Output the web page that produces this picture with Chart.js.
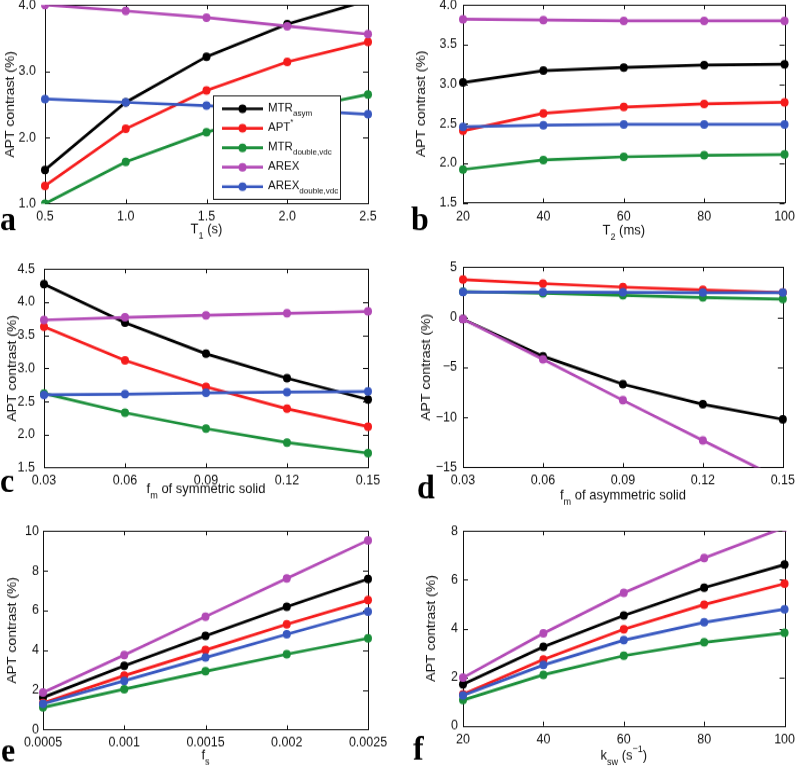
<!DOCTYPE html>
<html>
<head>
<meta charset="utf-8">
<script src="https://cdn.jsdelivr.net/npm/chart.js@4.4.0/dist/chart.umd.min.js"></script>
<style>
  html, body { margin: 0; padding: 0; background: #fff; }
  body { width: 800px; height: 770px; position: relative; overflow: hidden; }
  canvas { position: absolute; }
</style>
</head>
<body>
<script>
// series order in every panel: MTRasym, APT*, MTRdouble,vdc, AREX, AREXdouble,vdc
const seriesColors = ['#000000', '#f51c1c', '#1b8f3a', '#b24ab6', '#3858c0'];

// a: T1 (s)
const aX = [0.5, 1.0, 1.5, 2.0, 2.5];
const aMtr = [1.51, 2.53, 3.22, 3.71, 4.07];
const aApt = [1.27, 2.13, 2.71, 3.14, 3.44];
const aMtrD = [1.00, 1.63, 2.08, 2.40, 2.65];
const aArex = [4.00, 3.91, 3.81, 3.68, 3.56];
const aArexD = [2.58, 2.53, 2.48, 2.42, 2.35];
const aXTicks = [0.5, 1.0, 1.5, 2.0, 2.5];
const aXLabels = ['0.5', '1.0', '1.5', '2.0', '2.5'];
const aYTicks = [1, 2, 3, 4];
const aYLabels = ['1.0', '2.0', '3.0', '4.0'];

// b: T2 (ms)
const bX = [20, 40, 60, 80, 100];
const bMtr = [3.02, 3.17, 3.21, 3.24, 3.25];
const bApt = [2.41, 2.63, 2.71, 2.75, 2.77];
const bMtrD = [1.92, 2.04, 2.08, 2.10, 2.11];
const bArex = [3.82, 3.81, 3.80, 3.80, 3.80];
const bArexD = [2.46, 2.48, 2.49, 2.49, 2.49];
const bXTicks = [20, 40, 60, 80, 100];
const bXLabels = ['20', '40', '60', '80', '100'];
const bYTicks = [1.5, 2.0, 2.5, 3.0, 3.5, 4.0];
const bYLabels = ['1.5', '2.0', '2.5', '3.0', '3.5', '4.0'];

// c: fm of symmetric solid
const cX = [0.03, 0.06, 0.09, 0.12, 0.15];
const cMtr = [4.27, 3.69, 3.22, 2.85, 2.53];
const cApt = [3.63, 3.12, 2.72, 2.39, 2.12];
const cMtrD = [2.62, 2.33, 2.09, 1.88, 1.72];
const cArex = [3.73, 3.77, 3.80, 3.83, 3.86];
const cArexD = [2.60, 2.61, 2.63, 2.64, 2.65];
const cXTicks = [0.03, 0.06, 0.09, 0.12, 0.15];
const cXLabels = ['0.03', '0.06', '0.09', '0.12', '0.15'];
const cYTicks = [1.5, 2.0, 2.5, 3.0, 3.5, 4.0, 4.5];
const cYLabels = ['1.5', '2.0', '2.5', '3.0', '3.5', '4.0', '4.5'];

// d: fm of asymmetric solid
const dX = [0.03, 0.06, 0.09, 0.12, 0.15];
const dMtr = [-0.2, -3.9, -6.7, -8.7, -10.2];
const dApt = [3.75, 3.35, 3.00, 2.72, 2.45];
const dMtrD = [2.55, 2.38, 2.18, 1.97, 1.80];
const dArex = [-0.2, -4.2, -8.3, -12.3, -16.3];
const dArexD = [2.50, 2.50, 2.48, 2.45, 2.45];
const dXTicks = [0.03, 0.06, 0.09, 0.12, 0.15];
const dXLabels = ['0.03', '0.06', '0.09', '0.12', '0.15'];
const dYTicks = [-15, -10, -5, 0, 5];
const dYLabels = ['−15', '−10', '−5', '0', '5'];

// e: fs
const eX = [0.0005, 0.001, 0.0015, 0.002, 0.0025];
const eMtr = [1.62, 3.22, 4.72, 6.19, 7.58];
const eApt = [1.34, 2.72, 4.01, 5.30, 6.52];
const eMtrD = [1.12, 2.04, 2.94, 3.80, 4.60];
const eArex = [1.87, 3.76, 5.69, 7.61, 9.53];
const eArexD = [1.30, 2.46, 3.63, 4.80, 5.94];
const eXTicks = [0.0005, 0.001, 0.0015, 0.002, 0.0025];
const eXLabels = ['0.0005', '0.001', '0.0015', '0.002', '0.0025'];
const eYTicks = [0, 2, 4, 6, 8, 10];
const eYLabels = ['0', '2', '4', '6', '8', '10'];

// f: ksw (s^-1)
const fX = [20, 40, 60, 80, 100];
const fMtr = [1.71, 3.25, 4.53, 5.67, 6.62];
const fApt = [1.30, 2.73, 3.97, 4.98, 5.84];
const fMtrD = [1.06, 2.10, 2.88, 3.43, 3.82];
const fArex = [1.98, 3.80, 5.46, 6.89, 8.15];
const fArexD = [1.25, 2.50, 3.52, 4.25, 4.79];
const fXTicks = [20, 40, 60, 80, 100];
const fXLabels = ['20', '40', '60', '80', '100'];
const fYTicks = [0, 2, 4, 6, 8];
const fYLabels = ['0', '2', '4', '6', '8'];

// legend text pieces ('' normal, 'sub', 'sup')
const legendLabels = [
  [['MTR', ''], ['asym', 'sub']],
  [['APT', ''], ['*', 'sup']],
  [['MTR', ''], ['double,vdc', 'sub']],
  [['AREX', '']],
  [['AREX', ''], ['double,vdc', 'sub']]
];
const yTitle = [['APT contrast (%)', '']];

const S = 1.08; // the figure is stretched a little vertically
const FONT = 'Arial, "Liberation Sans", Helvetica, sans-serif';

function richWidth(ctx, parts, size) {
  let w = 0;
  for (const [t, m] of parts) {
    ctx.font = (m ? size * 0.7 : size) + 'px ' + FONT;
    w += ctx.measureText(t).width;
  }
  return w;
}

function drawRich(ctx, parts, x, y, size, align) {
  let cx = align === 'center' ? x - richWidth(ctx, parts, size) / 2 : x;
  ctx.textAlign = 'left';
  ctx.textBaseline = 'middle';
  for (const [t, m] of parts) {
    ctx.font = (m ? size * 0.7 : size) + 'px ' + FONT;
    const dy = m === 'sub' ? size * 0.45 : (m === 'sup' ? -size * 0.45 : 0);
    ctx.fillText(t, cx, y + dy);
    cx += ctx.measureText(t).width;
  }
}

const decor = {
  id: 'decor',
  beforeDatasetsDraw(chart, args, o) {
    const ctx = chart.ctx;
    const {left, right, top, bottom} = chart.chartArea;
    const xs = chart.scales.x, ys = chart.scales.y;
    ctx.save();
    ctx.strokeStyle = '#111';
    ctx.lineWidth = 1;
    ctx.beginPath();
    for (const v of o.xTicks) {
      const px = Math.round(xs.getPixelForValue(v)) + 0.5;
      ctx.moveTo(px, bottom); ctx.lineTo(px, bottom - 4);
      ctx.moveTo(px, top); ctx.lineTo(px, top + 4);
    }
    for (const v of o.yTicks) {
      const py = Math.round(ys.getPixelForValue(v)) + 0.5;
      ctx.moveTo(left, py); ctx.lineTo(left + 5, py);
      ctx.moveTo(right, py); ctx.lineTo(right - 5, py);
    }
    ctx.stroke();
    ctx.strokeRect(Math.round(left) + 0.5, Math.round(top) + 0.5, Math.round(right - left), Math.round(bottom - top));
    ctx.restore();
  },
  afterDraw(chart, args, o) {
    const ctx = chart.ctx;
    const py = y => (y - o.top) / S;
    const px = x => x - o.left;
    ctx.save();
    ctx.fillStyle = '#111';
    // x title
    drawRich(ctx, o.xTitle, (chart.chartArea.left + chart.chartArea.right) / 2, py(o.xTitleY), 13, 'center');
    // y title
    ctx.save();
    ctx.translate(px(o.yTitleX), (chart.chartArea.top + chart.chartArea.bottom) / 2);
    ctx.rotate(-Math.PI / 2);
    drawRich(ctx, yTitle, 0, 0, 13, 'center');
    ctx.restore();
    // panel letter
    ctx.font = 'bold 32px "Liberation Serif", "Times New Roman", serif';
    ctx.textAlign = 'left';
    ctx.textBaseline = 'alphabetic';
    ctx.fillStyle = '#000';
    ctx.fillText(o.letter, px(o.letterX), py(o.letterY));
    // legend
    if (o.legend) {
      const [lx0, ly0, lx1, ly1] = o.legend;
      ctx.fillStyle = '#fff';
      ctx.fillRect(px(lx0), py(ly0), lx1 - lx0, (ly1 - ly0) / S);
      ctx.strokeStyle = '#222';
      ctx.lineWidth = 1;
      ctx.strokeRect(px(lx0) + 0.5, Math.round(py(ly0)) + 0.5, lx1 - lx0, Math.round((ly1 - ly0) / S));
      legendLabels.forEach((parts, i) => {
        const y = py(ly0 + 13 + i * 19.5);
        ctx.strokeStyle = seriesColors[i];
        ctx.lineWidth = 2.7;
        ctx.beginPath();
        ctx.moveTo(px(lx0 + 9), y); ctx.lineTo(px(lx0 + 50), y);
        ctx.stroke();
        ctx.fillStyle = seriesColors[i];
        ctx.beginPath();
        ctx.arc(px(lx0 + 29.5), y, 4, 0, Math.PI * 2);
        ctx.fill();
        ctx.fillStyle = '#111';
        drawRich(ctx, parts, px(lx0 + 55), y - 1, 11.5, 'left');
      });
    }
    ctx.restore();
  }
};

const panels = [
  {letter: 'a', left: 0, area: [45, 5, 368, 204], x: aX, ys: [aMtr, aApt, aMtrD, aArex, aArexD],
   xTicks: aXTicks, xLabels: aXLabels, yTicks: aYTicks, yLabels: aYLabels, yPad: 9,
   xTitle: [['T', ''], ['1', 'sub'], [' (s)', '']], xTitleY: 230, yTitleX: 10, letterX: 0, letterY: 230,
   legend: [213, 96, 340, 200]},
  {letter: 'b', left: 400, area: [463, 5, 787, 203], x: bX, ys: [bMtr, bApt, bMtrD, bArex, bArexD],
   xTicks: bXTicks, xLabels: bXLabels, yTicks: bYTicks, yLabels: bYLabels, yPad: 6,
   xTitle: [['T', ''], ['2', 'sub'], [' (ms)', '']], xTitleY: 231, yTitleX: 421, letterX: 411, letterY: 230},
  {letter: 'c', left: 0, area: [44, 269, 368, 468], x: cX, ys: [cMtr, cApt, cMtrD, cArex, cArexD],
   xTicks: cXTicks, xLabels: cXLabels, yTicks: cYTicks, yLabels: cYLabels, yPad: 9,
   xTitle: [['f', ''], ['m', 'sub'], [' of symmetric solid', '']], xTitleY: 490, yTitleX: 12, letterX: 0, letterY: 492},
  {letter: 'd', left: 400, area: [463, 267, 787, 467], x: dX, ys: [dMtr, dApt, dMtrD, dArex, dArexD],
   xTicks: dXTicks, xLabels: dXLabels, yTicks: dYTicks, yLabels: dYLabels, yPad: 6,
   xTitle: [['f', ''], ['m', 'sub'], [' of asymmetric solid', '']], xTitleY: 495, yTitleX: 426, letterX: 417, letterY: 498},
  {letter: 'e', left: 0, area: [43, 531, 368, 730], x: eX, ys: [eMtr, eApt, eMtrD, eArex, eArexD],
   xTicks: eXTicks, xLabels: eXLabels, yTicks: eYTicks, yLabels: eYLabels, yPad: 4,
   xTitle: [['f', ''], ['s', 'sub']], xTitleY: 756, yTitleX: 12, letterX: 1, letterY: 762},
  {letter: 'f', left: 400, area: [463, 531, 787, 726], x: fX, ys: [fMtr, fApt, fMtrD, fArex, fArexD],
   xTicks: fXTicks, xLabels: fXLabels, yTicks: fYTicks, yLabels: fYLabels, yPad: 5,
   xTitle: [['k', ''], ['sw', 'sub'], [' (s', ''], ['−1', 'sup'], [')', '']], xTitleY: 756, yTitleX: 431, letterX: 413, letterY: 760}
];

const tickFont = {family: FONT, size: 12.5};

panels.forEach(p => {
  const [L, T, R, B] = p.area;
  const top = T - 24;
  const padTop = 24 / S;
  const h = Math.round((B - T + 90) / S);
  const xAxisH = h - padTop - (B - T) / S;
  const canvas = document.createElement('canvas');
  canvas.width = 400;
  canvas.height = h;
  canvas.style.left = p.left + 'px';
  canvas.style.top = top + 'px';
  canvas.style.width = '400px';
  canvas.style.height = (h * S) + 'px';
  document.body.appendChild(canvas);

  new Chart(canvas.getContext('2d'), {
    type: 'line',
    data: {
      datasets: p.ys.map((ys, i) => ({
        data: p.x.map((x, j) => ({x: x, y: ys[j]})),
        borderColor: seriesColors[i],
        backgroundColor: seriesColors[i],
        pointBackgroundColor: seriesColors[i],
        pointBorderWidth: 0,
        pointRadius: 4,
        borderWidth: 2.7,
        tension: 0,
        order: 5 - i,
        clip: {left: 10, right: 10, top: 0, bottom: 0}
      }))
    },
    options: {
      responsive: false,
      animation: false,
      devicePixelRatio: 1,
      layout: {padding: {top: padTop, right: p.left + 400 - R, left: 0, bottom: 0}},
      plugins: {
        legend: {display: false},
        tooltip: {enabled: false},
        decor: {
          xTicks: p.xTicks, yTicks: p.yTicks, xTitle: p.xTitle, xTitleY: p.xTitleY,
          yTitleX: p.yTitleX, letter: p.letter, letterX: p.letterX, letterY: p.letterY,
          legend: p.legend, top: top, left: p.left
        }
      },
      scales: {
        x: {
          type: 'linear',
          min: p.xTicks[0], max: p.xTicks[p.xTicks.length - 1],
          grid: {display: false, drawTicks: false},
          border: {display: false},
          ticks: {font: tickFont, color: '#111', padding: 5, autoSkip: false, maxRotation: 0,
                  callback: (v, i) => p.xLabels[i]},
          afterBuildTicks: s => { s.ticks = p.xTicks.map(v => ({value: v})); },
          afterFit: s => { s.height = xAxisH; }
        },
        y: {
          type: 'linear',
          min: p.yTicks[0], max: p.yTicks[p.yTicks.length - 1],
          grid: {display: false, drawTicks: false},
          border: {display: false},
          ticks: {font: tickFont, color: '#111', padding: p.yPad, autoSkip: false,
                  callback: (v, i) => p.yLabels[i]},
          afterBuildTicks: s => { s.ticks = p.yTicks.map(v => ({value: v})); },
          afterFit: s => { s.width = L - p.left; }
        }
      }
    },
    plugins: [decor]
  });
});
</script>
</body>
</html>
